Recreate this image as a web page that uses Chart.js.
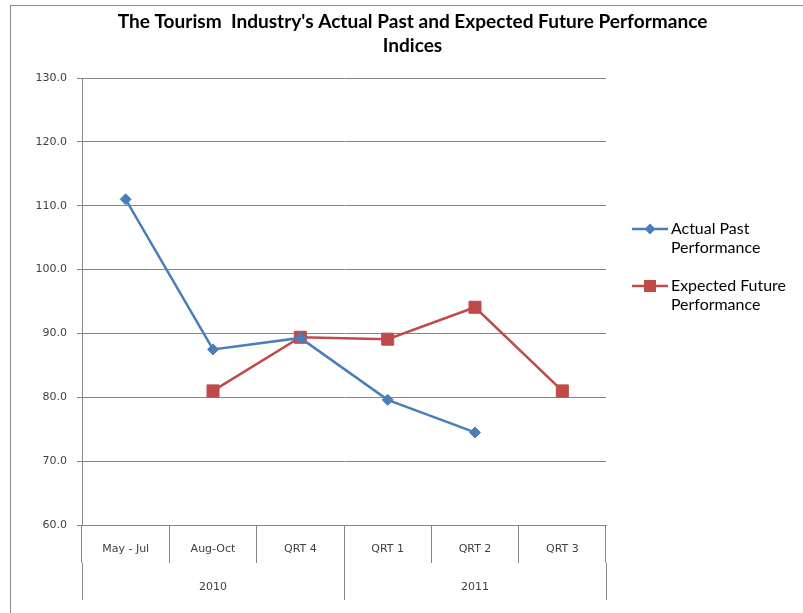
<!DOCTYPE html>
<html>
<head>
<meta charset="utf-8">
<script src="https://cdn.jsdelivr.net/npm/chart.js@4.4.1/dist/chart.umd.min.js"></script>
<style>
  html, body { margin: 0; padding: 0; background: #ffffff; }
  #wrap { position: relative; width: 803px; height: 613px; overflow: hidden; background: #ffffff; }
  #frame { position: absolute; left: 10px; top: 5px; width: 830px; height: 650px;
           border-left: 1px solid #8a8a8a; border-top: 1px solid #8a8a8a; }
  #c { position: absolute; left: 0; top: 0; }
</style>
</head>
<body>
<div id="wrap"><div id="frame"></div><canvas id="c" width="803" height="613"></canvas></div>
<script>
// ---------------- data ----------------
const titleLines = ["The Tourism  Industry's Actual Past and Expected Future Performance", "Indices"];
const categories = ["May - Jul", "Aug-Oct", "QRT 4", "QRT 1", "QRT 2", "QRT 3"];
const years = ["2010", "2011"];
const actualPast = [111.0, 87.5, 89.3, 79.6, 74.5, null];
const expectedFuture = [null, 81.0, 89.4, 89.1, 94.1, 81.0];
const seriesNames = ["Actual Past Performance", "Expected Future Performance"];
const legendLines = [["Actual Past", "Performance"], ["Expected Future", "Performance"]];
const yMin = 60, yMax = 130, yStep = 10;

// ---------------- styles / layout ----------------
const BLUE = '#4A7EBB', RED = '#BE4B48', GRID = '#868686', TICKTXT = '#404040';
const AREA = { left: 82, right: 606, top: 78, bottom: 525 };
const TITLE_CX = 412.5;
const CW = 803, CH = 613;

const mctx = document.createElement('canvas').getContext('2d');
function tw(font, s) { mctx.font = font; return mctx.measureText(s).width; }

let titleSize = 17 * 590 / tw("bold 17px Lato", titleLines[0]);
titleSize = Math.max(15, Math.min(20, titleSize));
let legendSize = 14 * 115 / tw("14px Lato", "Expected Future");
legendSize = Math.max(12, Math.min(17, legendSize));

const legendPad = 19;
const PW = 38; // legend symbol box width
const legendFont = legendSize + "px Lato";
const legendNatural = legendPad + PW + legendSize / 2 + tw(legendFont, "Expected Future") + 10;
const padR = Math.max(0, CW - AREA.right - legendNatural);
const padL = 2 * TITLE_CX - CW + padR;
const padT = 0;
const x1H = 38, x2H = 37;
const padB = CH - AREA.bottom - x1H - x2H;
const legendTitlePad = 229 - legendSize / 2 - legendPad - 10 - padT;

// legend symbol images (line with marker)
function legendImage(color, shape) {
  const cx = AREA.right + legendPad + PW / 2;   // image centre on page
  const lineL = 632, lineR = 668, markX = 650;
  const half = Math.max(cx - lineL, lineR - cx) + 2;
  const c = document.createElement('canvas');
  c.width = Math.round(2 * half); c.height = 16;
  const g = c.getContext('2d');
  const ox = cx - half;
  g.strokeStyle = color; g.lineWidth = 2.5;
  g.beginPath(); g.moveTo(lineL - ox, 8); g.lineTo(lineR - ox, 8); g.stroke();
  g.fillStyle = color;
  const mx = markX - ox;
  g.beginPath();
  if (shape === 'diamond') {
    g.moveTo(mx - 5.5, 8); g.lineTo(mx, 2.5); g.lineTo(mx + 5.5, 8); g.lineTo(mx, 13.5); g.closePath();
  } else {
    g.rect(mx - 6, 2, 12, 12);
  }
  g.fill();
  return c;
}
const legendImgs = [legendImage(BLUE, 'diamond'), legendImage(RED, 'square')];

const tickFont = { family: "DejaVu Sans", size: 11 };

new Chart(document.getElementById('c'), {
  type: 'line',
  data: {
    labels: categories,
    datasets: [
      {
        label: seriesNames[0], data: actualPast,
        borderColor: BLUE, backgroundColor: BLUE, borderWidth: 2.5,
        pointStyle: 'rectRot', pointRadius: 5.5, pointHoverRadius: 5.5,
        pointBackgroundColor: BLUE, pointBorderColor: BLUE, pointBorderWidth: 1,
        tension: 0, fill: false
      },
      {
        label: seriesNames[1], data: expectedFuture,
        borderColor: RED, backgroundColor: RED, borderWidth: 2.5,
        pointStyle: 'rect', pointRadius: 8.5, pointHoverRadius: 8.5,
        pointBackgroundColor: RED, pointBorderColor: RED, pointBorderWidth: 1,
        tension: 0, fill: false
      }
    ]
  },
  options: {
    responsive: false,
    animation: false,
    devicePixelRatio: 1,
    layout: { padding: { left: padL, right: padR, top: padT, bottom: padB } },
    plugins: {
      tooltip: { enabled: false },
      title: {
        display: true,
        text: titleLines,
        color: '#000000',
        font: { family: 'Lato', weight: 'bold', size: titleSize, lineHeight: '24px' },
        padding: { top: 10, bottom: 20 },
        align: 'center'
      },
      legend: {
        display: true,
        position: 'right',
        align: 'start',
        title: { display: true, text: '', font: { size: 10, lineHeight: '10px' },
                 padding: { top: legendTitlePad, bottom: 0 } },
        labels: {
          usePointStyle: true,
          pointStyleWidth: PW,
          padding: legendPad,
          color: '#000000',
          font: { family: 'Lato', size: legendSize, lineHeight: '19px' },
          generateLabels(chart) {
            const items = Chart.defaults.plugins.legend.labels.generateLabels(chart);
            items.forEach((it, i) => {
              it.text = legendLines[i];
              it.pointStyle = legendImgs[i];
              it.fontColor = '#000000';
            });
            return items;
          }
        }
      }
    },
    scales: {
      x: {
        type: 'category',
        position: 'bottom',
        weight: 0,
        offset: true,
        grid: { display: true, offset: true, drawOnChartArea: false, drawTicks: true,
                tickLength: x1H, color: GRID, lineWidth: 1 },
        border: { display: true, color: GRID, width: 1 },
        ticks: { color: TICKTXT, font: tickFont, padding: -20, maxRotation: 0, autoSkip: false },
        afterFit(scale) { scale.height = x1H; }
      },
      x2: {
        type: 'category',
        labels: years,
        position: 'bottom',
        weight: 1,
        offset: true,
        grid: { display: true, offset: true, drawOnChartArea: false, drawTicks: true,
                tickLength: x2H, color: GRID, lineWidth: 1 },
        border: { display: false },
        ticks: { color: TICKTXT, font: tickFont, padding: -19, maxRotation: 0, autoSkip: false },
        afterFit(scale) { scale.height = x2H; }
      },
      y: {
        type: 'linear',
        position: 'left',
        min: yMin, max: yMax,
        ticks: { stepSize: yStep, color: TICKTXT, font: tickFont, padding: 10,
                 callback: (v) => Number(v).toFixed(1) },
        grid: { color: GRID, lineWidth: 1, tickLength: 5, drawTicks: true },
        border: { display: true, color: GRID, width: 1 },
        afterFit(scale) { scale.width = AREA.left - padL; }
      }
    }
  }
});
</script>
</body>
</html>
